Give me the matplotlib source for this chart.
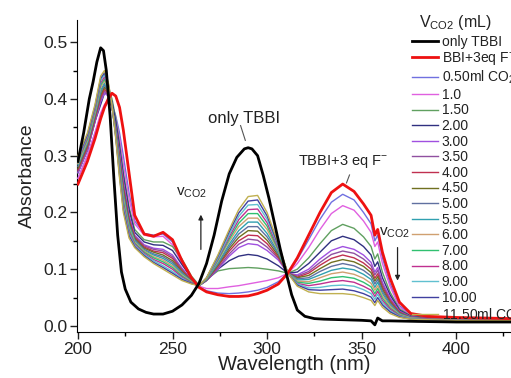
import matplotlib
matplotlib.use("Agg")
import matplotlib.pyplot as plt
from matplotlib.ticker import MultipleLocator

plt.rcParams['font.family'] = ['Liberation Sans', 'DejaVu Sans']
plt.rcParams['mathtext.fontset'] = 'custom'
plt.rcParams['mathtext.rm'] = 'Liberation Sans'
plt.rcParams['mathtext.it'] = 'Liberation Sans'

# ---- data ----
wl_black = [200, 203, 206, 208, 210, 212, 213.5, 215, 217, 219, 221, 223, 225, 228, 232, 236, 240,
            245, 250, 255, 260, 264, 268, 272, 276, 280, 284, 288, 290, 292, 295, 298, 301, 304,
            307, 310, 313, 316, 320, 325, 330, 340, 350, 355, 357, 358.5, 361, 365, 380, 400, 430]
only_tbbi = [0.29, 0.34, 0.40, 0.43, 0.465, 0.49, 0.485, 0.45, 0.37, 0.26, 0.16, 0.095, 0.065, 0.042,
             0.03, 0.024, 0.021, 0.021, 0.026, 0.037, 0.054, 0.075, 0.11, 0.16, 0.22, 0.268, 0.297,
             0.312, 0.314, 0.312, 0.30, 0.265, 0.225, 0.18, 0.135, 0.095, 0.055, 0.028, 0.017, 0.013,
             0.012, 0.011, 0.010, 0.009, 0.002, 0.014, 0.009, 0.009, 0.008, 0.007, 0.007]

wl = [200, 205, 209, 212, 214, 216, 218, 220, 222, 224, 227, 230, 235, 240, 245, 250, 255, 260,
      264, 268, 274, 280, 285, 290, 295, 300, 306, 311, 316, 322, 328, 334, 340, 346, 351, 355,
      357, 358.5, 361, 365, 370, 376, 385, 400, 430]

tbbi_f = [0.25, 0.29, 0.33, 0.365, 0.385, 0.40, 0.41, 0.405, 0.385, 0.345, 0.27, 0.195, 0.162, 0.158,
          0.165, 0.152, 0.115, 0.085, 0.068, 0.06, 0.055, 0.052, 0.052, 0.053, 0.057, 0.063, 0.074,
          0.093, 0.12, 0.16, 0.20, 0.235, 0.25, 0.237, 0.215, 0.195, 0.16, 0.17, 0.13, 0.085, 0.042,
          0.022, 0.017, 0.015, 0.013]

co2_labels = ["0.50ml CO$_2$", "1.0", "1.50", "2.00", "3.00", "3.50", "4.00", "4.50", "5.00",
              "5.50", "6.00", "7.00", "8.00", "9.00", "10.00", "11.50ml CO$_2$"]

v050 = [0.26, 0.30, 0.34, 0.37, 0.385, 0.395, 0.39, 0.37, 0.34, 0.30, 0.235, 0.185, 0.163, 0.16,
        0.162, 0.148, 0.112, 0.085, 0.069, 0.062, 0.058, 0.057, 0.058, 0.06, 0.063, 0.068, 0.078,
        0.093, 0.117, 0.152, 0.188, 0.218, 0.232, 0.222, 0.20, 0.18, 0.15, 0.16, 0.12, 0.075, 0.036,
        0.02, 0.016, 0.014, 0.012]
v100 = [0.26, 0.30, 0.34, 0.375, 0.39, 0.398, 0.39, 0.365, 0.33, 0.285, 0.225, 0.18, 0.16, 0.157,
        0.158, 0.143, 0.11, 0.084, 0.07, 0.066, 0.066, 0.069, 0.071, 0.074, 0.077, 0.08, 0.085,
        0.093, 0.11, 0.138, 0.17, 0.198, 0.212, 0.204, 0.185, 0.165, 0.14, 0.148, 0.11, 0.07, 0.033,
        0.019, 0.015, 0.013, 0.012]
v150 = [0.27, 0.31, 0.36, 0.40, 0.42, 0.42, 0.40, 0.365, 0.32, 0.27, 0.21, 0.17, 0.152, 0.148,
        0.148, 0.14, 0.118, 0.088, 0.072, 0.082, 0.097, 0.101, 0.102, 0.103, 0.102, 0.100, 0.097,
        0.093, 0.10, 0.12, 0.145, 0.168, 0.179, 0.172, 0.157, 0.14, 0.118, 0.127, 0.095, 0.06, 0.03,
        0.018, 0.015, 0.013, 0.012]
v200 = [0.27, 0.31, 0.36, 0.39, 0.41, 0.41, 0.395, 0.36, 0.315, 0.265, 0.205, 0.165, 0.148, 0.143,
        0.142, 0.133, 0.108, 0.085, 0.071, 0.08, 0.10, 0.115, 0.123, 0.126, 0.124, 0.118, 0.106,
        0.093, 0.095, 0.11, 0.13, 0.15, 0.158, 0.152, 0.14, 0.125, 0.105, 0.113, 0.085, 0.055, 0.028,
        0.017, 0.014, 0.012, 0.011]
v300 = [0.27, 0.31, 0.36, 0.395, 0.41, 0.405, 0.385, 0.35, 0.305, 0.255, 0.195, 0.16, 0.143, 0.137,
        0.135, 0.125, 0.102, 0.082, 0.071, 0.08, 0.10, 0.123, 0.138, 0.145, 0.143, 0.133, 0.116,
        0.093, 0.09, 0.10, 0.118, 0.133, 0.14, 0.135, 0.125, 0.112, 0.095, 0.103, 0.077, 0.05, 0.026,
        0.016, 0.013, 0.012, 0.011]
v350 = [0.273, 0.313, 0.363, 0.399, 0.414, 0.407, 0.385, 0.348, 0.301, 0.250, 0.191, 0.158, 0.141,
        0.135, 0.132, 0.122, 0.100, 0.081, 0.071, 0.080, 0.102, 0.127, 0.144, 0.153, 0.151, 0.139,
        0.119, 0.093, 0.088, 0.096, 0.112, 0.126, 0.132, 0.128, 0.118, 0.106, 0.090, 0.098, 0.073,
        0.047, 0.025, 0.016, 0.013, 0.012, 0.011]
v400 = [0.275, 0.315, 0.365, 0.403, 0.417, 0.410, 0.386, 0.346, 0.297, 0.245, 0.188, 0.156, 0.139,
        0.132, 0.129, 0.119, 0.098, 0.081, 0.071, 0.081, 0.105, 0.132, 0.150, 0.160, 0.159, 0.145,
        0.121, 0.093, 0.086, 0.093, 0.107, 0.119, 0.125, 0.120, 0.111, 0.100, 0.084, 0.092, 0.069,
        0.045, 0.024, 0.015, 0.013, 0.012, 0.011]
v450 = [0.278, 0.318, 0.368, 0.407, 0.421, 0.412, 0.386, 0.345, 0.293, 0.240, 0.184, 0.154, 0.137,
        0.130, 0.125, 0.115, 0.096, 0.080, 0.071, 0.081, 0.107, 0.136, 0.156, 0.168, 0.167, 0.151,
        0.124, 0.093, 0.085, 0.089, 0.101, 0.112, 0.117, 0.113, 0.105, 0.094, 0.079, 0.087, 0.065,
        0.042, 0.023, 0.015, 0.012, 0.011, 0.011]
v500 = [0.281, 0.321, 0.371, 0.411, 0.425, 0.414, 0.387, 0.343, 0.289, 0.235, 0.180, 0.152, 0.135,
        0.127, 0.122, 0.112, 0.094, 0.079, 0.071, 0.082, 0.109, 0.140, 0.162, 0.175, 0.175, 0.157,
        0.127, 0.093, 0.083, 0.085, 0.096, 0.105, 0.110, 0.106, 0.098, 0.088, 0.074, 0.082, 0.061,
        0.040, 0.022, 0.015, 0.012, 0.011, 0.011]
v550 = [0.284, 0.324, 0.374, 0.415, 0.428, 0.416, 0.387, 0.341, 0.285, 0.230, 0.177, 0.150, 0.133,
        0.125, 0.119, 0.109, 0.092, 0.078, 0.071, 0.082, 0.111, 0.144, 0.168, 0.183, 0.183, 0.163,
        0.129, 0.093, 0.081, 0.082, 0.090, 0.098, 0.102, 0.099, 0.091, 0.082, 0.068, 0.077, 0.057,
        0.037, 0.021, 0.014, 0.012, 0.011, 0.011]
v600 = [0.286, 0.326, 0.376, 0.420, 0.432, 0.419, 0.388, 0.339, 0.280, 0.225, 0.173, 0.148, 0.132,
        0.122, 0.116, 0.106, 0.090, 0.078, 0.071, 0.083, 0.114, 0.149, 0.175, 0.190, 0.190, 0.170,
        0.132, 0.093, 0.079, 0.078, 0.085, 0.092, 0.095, 0.091, 0.084, 0.075, 0.063, 0.071, 0.053,
        0.035, 0.020, 0.014, 0.012, 0.011, 0.011]
v700 = [0.289, 0.329, 0.379, 0.424, 0.435, 0.421, 0.388, 0.337, 0.276, 0.220, 0.170, 0.146, 0.130,
        0.120, 0.113, 0.103, 0.088, 0.077, 0.071, 0.083, 0.116, 0.153, 0.181, 0.198, 0.198, 0.176,
        0.134, 0.093, 0.077, 0.075, 0.079, 0.085, 0.087, 0.084, 0.077, 0.069, 0.057, 0.066, 0.049,
        0.032, 0.019, 0.013, 0.012, 0.011, 0.011]
v800 = [0.292, 0.332, 0.382, 0.428, 0.439, 0.423, 0.389, 0.335, 0.272, 0.215, 0.166, 0.144, 0.128,
        0.117, 0.110, 0.100, 0.086, 0.076, 0.071, 0.084, 0.118, 0.157, 0.187, 0.205, 0.206, 0.182,
        0.137, 0.093, 0.075, 0.071, 0.074, 0.078, 0.080, 0.077, 0.070, 0.063, 0.052, 0.061, 0.045,
        0.030, 0.018, 0.013, 0.012, 0.011, 0.010]
v900 = [0.295, 0.335, 0.385, 0.432, 0.443, 0.425, 0.389, 0.334, 0.268, 0.210, 0.162, 0.142, 0.126,
        0.115, 0.106, 0.096, 0.084, 0.075, 0.071, 0.084, 0.120, 0.161, 0.193, 0.213, 0.214, 0.188,
        0.140, 0.093, 0.074, 0.067, 0.068, 0.071, 0.072, 0.070, 0.064, 0.057, 0.047, 0.056, 0.041,
        0.027, 0.017, 0.013, 0.011, 0.010, 0.010]
v1000 = [0.297, 0.337, 0.387, 0.436, 0.446, 0.428, 0.390, 0.332, 0.264, 0.205, 0.159, 0.140, 0.124,
         0.112, 0.103, 0.093, 0.082, 0.075, 0.071, 0.085, 0.123, 0.166, 0.199, 0.220, 0.222, 0.194,
         0.142, 0.093, 0.072, 0.064, 0.063, 0.064, 0.065, 0.062, 0.057, 0.051, 0.041, 0.050, 0.037,
         0.025, 0.016, 0.012, 0.011, 0.010, 0.010]
v1150 = [0.300, 0.340, 0.390, 0.440, 0.450, 0.430, 0.390, 0.330, 0.260, 0.200, 0.155, 0.138, 0.122,
         0.110, 0.100, 0.090, 0.080, 0.074, 0.071, 0.085, 0.125, 0.170, 0.205, 0.228, 0.230, 0.200,
         0.145, 0.093, 0.070, 0.060, 0.057, 0.057, 0.057, 0.055, 0.050, 0.045, 0.036, 0.045, 0.033,
         0.022, 0.015, 0.012, 0.011, 0.010, 0.010]

co2_series = [v050, v100, v150, v200, v300, v350, v400, v450, v500, v550, v600, v700, v800, v900,
              v1000, v1150]
co2_colors = ["#7070e0", "#e060e0", "#60a060", "#303080", "#a050e0", "#9050a0", "#c03050",
              "#707020", "#6070a0", "#30a0b0", "#d0a070", "#30c070", "#c03090", "#60c0d0",
              "#4040a0", "#c0b050"]

# ---- figure ----
fig = plt.figure(figsize=(5.11, 3.78), dpi=100)
ax = fig.add_axes([0.1507, 0.1217, 0.8493, 0.8254])

handles = []
h, = ax.plot(wl_black, only_tbbi, color="black", lw=2.0, label="only TBBI", zorder=5)
handles.append(h)
h, = ax.plot(wl, tbbi_f, color="#ee1111", lw=2.0, label="BBI+3eq F$^{-}$", zorder=4)
handles.append(h)
for vals, col, lab in zip(co2_series, co2_colors, co2_labels):
    h, = ax.plot(wl, vals, color=col, lw=1.0, label=lab, zorder=3)
    handles.append(h)

ax.set_xlim(199.5, 429)
ax.set_ylim(-0.0106, 0.539)
ax.xaxis.set_major_locator(MultipleLocator(50))
ax.xaxis.set_minor_locator(MultipleLocator(25))
ax.yaxis.set_major_locator(MultipleLocator(0.1))
ax.yaxis.set_minor_locator(MultipleLocator(0.05))
ax.yaxis.set_major_formatter(matplotlib.ticker.FormatStrFormatter('%.1f'))
ax.tick_params(which='major', direction='out', length=5, width=1, labelsize=12.5,
               colors='#222222', pad=2)
ax.tick_params(which='minor', direction='out', length=3, width=1)
ax.spines['top'].set_visible(False)
ax.spines['right'].set_visible(False)
ax.set_xlabel("Wavelength (nm)", fontsize=14.5, color='#222222', labelpad=-1)
ax.set_ylabel("Absorbance", fontsize=14, color='#222222', labelpad=5)

# annotations
ax.text(287.6, 0.366, "only TBBI", ha='center', va='center', fontsize=12, color='#222222')
ax.plot([286, 288.5], [0.353, 0.327], color='#555555', lw=0.8)
ax.text(340, 0.289, "TBBI+3 eq F$^{-}$", ha='center', va='center', fontsize=10.5, color='#222222')
ax.plot([343.6, 342], [0.266, 0.252], color='#555555', lw=0.8)
ax.text(260, 0.234, "v$_{\\mathregular{CO2}}$", ha='center', va='center', fontsize=11, color='#222222')
ax.annotate("", xy=(265, 0.201), xytext=(265, 0.13),
            arrowprops=dict(arrowstyle='-|>', color='#222222', lw=0.9, mutation_scale=7))
ax.text(367.5, 0.165, "v$_{\\mathregular{CO2}}$", ha='center', va='center', fontsize=11, color='#222222')
ax.annotate("", xy=(369, 0.075), xytext=(369, 0.143),
            arrowprops=dict(arrowstyle='-|>', color='#222222', lw=0.9, mutation_scale=7))

leg = ax.legend(handles=handles, loc='upper left', bbox_to_anchor=(0.787, 0.934),
                bbox_transform=fig.transFigure, frameon=False, fontsize=10,
                labelspacing=0.115, handlelength=1.85, handletextpad=0.3, borderpad=0.2)
for t in leg.get_texts():
    t.set_color('#222222')
fig.text(455 / 511, 1 - 23 / 378, "V$_{\\mathregular{CO2}}$ (mL)", ha='center', va='center',
         fontsize=11.5, color='#222222')

fig.savefig("out.png", dpi=100)
